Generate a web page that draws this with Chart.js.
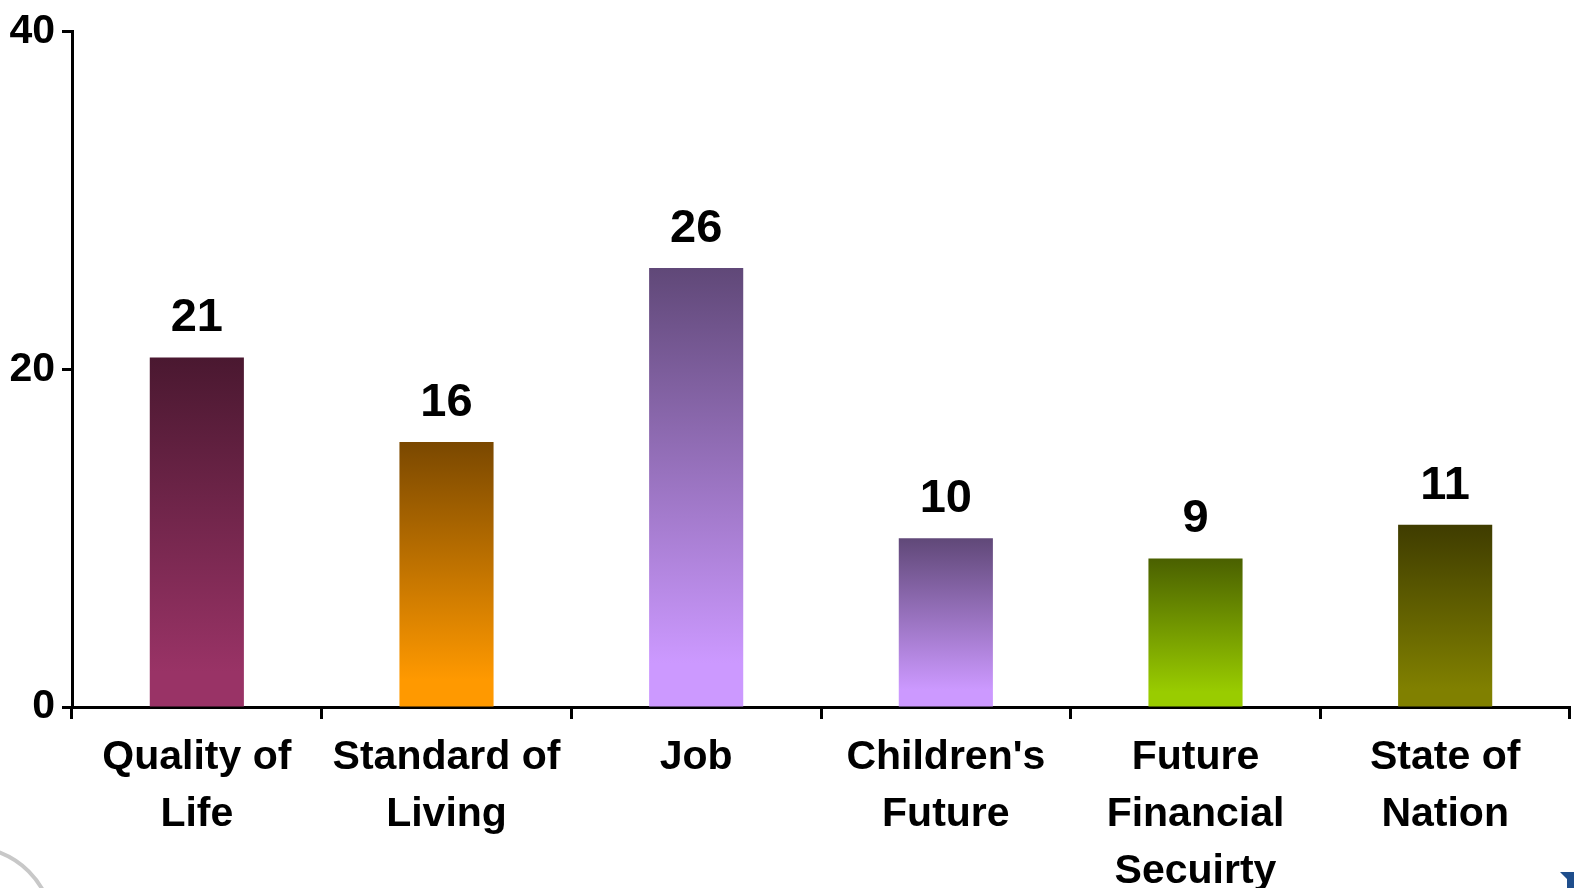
<!DOCTYPE html>
<html>
<head>
<meta charset="utf-8">
<script src="https://cdn.jsdelivr.net/npm/chart.js@4/dist/chart.umd.min.js"></script>
<style>
  html, body { margin: 0; padding: 0; background: #fff; }
  #wrap { width: 1574px; height: 888px; position: relative; }
</style>
</head>
<body>
<div id="wrap"><canvas id="bars"></canvas></div>
<script>
// categories (multi-line labels as on the slide)
categories = [
  ['Quality of', 'Life'],
  ['Standard of', 'Living'],
  ['Job'],
  ["Children's", 'Future'],
  ['Future', 'Financial', 'Secuirty'],
  ['State of', 'Nation']
];

// bar heights
values = [20.7, 15.7, 26.0, 10.0, 8.8, 10.8];

// y axis ticks
yTicks = [0, 20, 40];

// top / bottom gradient colours for each bar
barColors = [
  ['#4a1830', '#993366'],
  ['#7a4800', '#ff9900'],
  ['#604878', '#cc99ff'],
  ['#604878', '#cc99ff'],
  ['#4a6000', '#99cc00'],
  ['#3f3c00', '#808000']
];

FONT = '"Liberation Sans", Arial, sans-serif';

function barFill(ctx) {
  var chart = ctx.chart;
  var c = barColors[ctx.dataIndex];
  if (!chart.chartArea) return c[1];
  var y = chart.scales.y;
  var top = y.getPixelForValue(ctx.raw);
  var bottom = y.getPixelForValue(0);
  var g = chart.ctx.createLinearGradient(0, top, 0, bottom);
  g.addColorStop(0, c[0]);
  g.addColorStop(0.9, c[1]);
  g.addColorStop(1, c[1]);
  return g;
}

// numbers above the bars
valueLabels = {
  id: 'valueLabels',
  afterDatasetsDraw: function(chart) {
    var ctx = chart.ctx;
    var meta = chart.getDatasetMeta(0);
    ctx.save();
    ctx.font = 'bold 47px ' + FONT;
    ctx.fillStyle = '#000';
    ctx.textAlign = 'center';
    ctx.textBaseline = 'alphabetic';
    meta.data.forEach(function(bar, i) {
      ctx.fillText(String(Math.round(values[i])), bar.x, bar.y - 26);
    });
    ctx.restore();
  }
};

// bits of the slide showing at the bottom corners
slideBits = {
  id: 'slideBits',
  afterDraw: function(chart) {
    var ctx = chart.ctx;
    ctx.save();
    ctx.strokeStyle = '#c8c8c8';
    ctx.lineWidth = 4;
    ctx.beginPath();
    ctx.arc(-30, 930, 83, -Math.PI / 2, 0);
    ctx.stroke();
    ctx.fillStyle = '#1f4e8c';
    ctx.beginPath();
    ctx.moveTo(1560, 872);
    ctx.lineTo(1574, 872);
    ctx.lineTo(1574, 888);
    ctx.lineTo(1567, 888);
    ctx.lineTo(1567, 879);
    ctx.closePath();
    ctx.fill();
    ctx.restore();
  }
};

chartdata = {
  labels: categories,
  datasets: [{
    data: values,
    backgroundColor: barFill,
    borderWidth: 0,
    categoryPercentage: 1,
    barPercentage: 0.377
  }]
};

config = {
  type: 'bar',
  data: chartdata,
  plugins: [valueLabels, slideBits],
  options: {
    responsive: true,
    maintainAspectRatio: false,
    devicePixelRatio: 1,
    animation: false,
    layout: { padding: { top: 27, right: 4, left: 0, bottom: 0 } },
    plugins: {
      legend: { display: false },
      tooltip: { enabled: false }
    },
    scales: {
      x: {
        offset: true,
        grid: {
          offset: true,
          drawOnChartArea: false,
          drawTicks: true,
          tickLength: 12,
          tickWidth: 3,
          color: '#000'
        },
        border: { display: true, color: '#000', width: 3 },
        ticks: {
          color: '#000',
          padding: 10,
          maxRotation: 0,
          autoSkip: false,
          font: { family: FONT, size: 41, weight: 'bold', lineHeight: 1.39 }
        },
        afterFit: function(scale) { scale.height = 181; }
      },
      y: {
        min: 0,
        max: 40,
        afterBuildTicks: function(scale) {
          scale.ticks = yTicks.map(function(v) { return { value: v }; });
        },
        grid: {
          drawOnChartArea: false,
          drawTicks: true,
          tickLength: 10,
          tickWidth: 3,
          color: '#000'
        },
        border: { display: true, color: '#000', width: 3 },
        ticks: {
          color: '#000',
          padding: 7,
          font: { family: FONT, size: 41, weight: 'bold' }
        },
        afterFit: function(scale) { scale.width = 72; }
      }
    }
  }
};

var myChart = new Chart(document.getElementById('bars'), config);
</script>
</body>
</html>
